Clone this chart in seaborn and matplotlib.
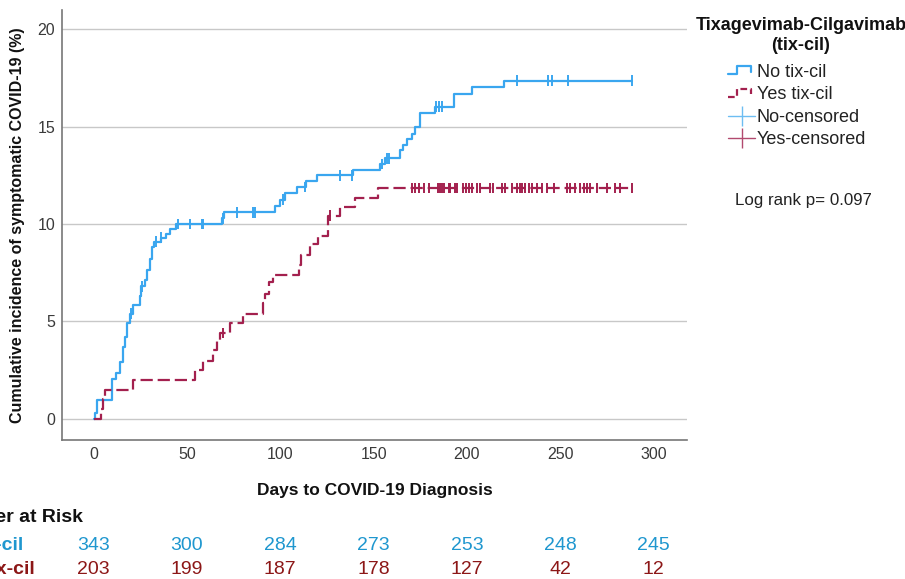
import numpy as np
import pandas as pd
import matplotlib
matplotlib.use("Agg")
import matplotlib.pyplot as plt
import matplotlib.transforms as mtransforms
from matplotlib.lines import Line2D
from matplotlib.legend_handler import HandlerBase
import seaborn as sns

# ---------------- data ----------------
no_days = [0, 0.5, 1.5, 2, 10, 12.2, 14.3, 15.5, 16.5, 18, 19.3, 21, 24.7, 25.5, 27.4, 28.5,
           30.1, 31, 32.5, 36.3, 38.5, 41, 44, 68.5, 70, 97.2, 100, 102.5, 108.8, 113.8,
           119.5, 139.2, 153.5, 156, 164.4, 166, 168, 170.5, 172, 174.7, 183, 192.9, 202.7,
           219.7, 288.6]
no_vals = [0, 0.3, 0.6, 0.95, 2.05, 2.33, 2.9, 3.7, 4.2, 4.9, 5.4, 5.85, 6.3, 6.8, 7.1, 7.65,
           8.2, 8.8, 9.1, 9.3, 9.5, 9.72, 10.0, 10.3, 10.6, 10.95, 11.25, 11.6, 11.9, 12.2,
           12.5, 12.8, 13.08, 13.37, 13.8, 14.05, 14.35, 14.65, 15.0, 15.7, 16.03, 16.7, 17.03,
           17.37, 17.37]
yes_days = [0, 4, 5, 6, 21.1, 54.2, 58.7, 64, 66, 67.6, 73, 80.2, 90.7, 92, 94, 96.3, 110,
            111, 116, 120.4, 125.8, 132, 140, 152.6, 288.6]
yes_vals = [0, 0.5, 1.0, 1.48, 1.98, 2.48, 2.98, 3.5, 4.0, 4.4, 4.9, 5.4, 5.95, 6.4, 7.0, 7.4,
            7.9, 8.4, 8.95, 9.4, 10.43, 10.9, 11.35, 11.85, 11.85]

no_censored = [20.2, 25.9, 33.6, 36.3, 45.3, 51.5, 57.8, 58.7, 69.5, 76.6, 85.6, 86.5, 101.6,
               113.3, 132, 138.3, 154.4, 157, 158.5, 183.5, 185, 186.6, 226.9, 243.5, 245.6,
               254.2, 288.6]
yes_censored = [69.4, 126.8, 170.5, 172.3, 174.1, 176.8, 179.5, 184.8, 185.7, 186.6, 187.5,
                190.2, 191.1, 193.8, 194.7, 198.2, 199.7, 201.1, 202.7, 205.4, 207.2, 212.6,
                214, 218.8, 220.6, 224.2, 226.9, 228.3, 229.6, 231.3, 233.1, 234.9, 237.6,
                240.3, 243, 246.6, 253.7, 255.5, 258.2, 260.8, 262.6, 264.4, 266.2, 269.8,
                275.2, 279.6, 282.3, 288.6]

groups = ["No tix-cil", "Yes tix-cil"]
risk_times = [0, 50, 100, 150, 200, 250, 300]
risk_no = [343, 300, 284, 273, 253, 248, 245]
risk_yes = [203, 199, 187, 178, 127, 42, 12]

# ---------------- style ----------------
sns.set_style("white")
plt.rcParams["font.family"] = ["Liberation Sans", "DejaVu Sans"]

BLUE = "#3aa6ef"
RED = "#a3204e"
BLUE_TXT = "#1f97cf"
RED_TXT = "#8c1717"
NARROW = ["Liberation Sans Narrow", "Liberation Sans", "DejaVu Sans"]

W, H = 905, 579
fig = plt.figure(figsize=(W / 100, H / 100), dpi=100)
ax = fig.add_axes([62 / W, 1 - 440 / H, 625 / W, 430 / H])


def step_value(days, vals, t):
    i = np.searchsorted(days, t, side="right") - 1
    return vals[max(i, 0)]


curves = pd.concat([
    pd.DataFrame({"day": no_days, "value": no_vals, "group": groups[0]}),
    pd.DataFrame({"day": yes_days, "value": yes_vals, "group": groups[1]}),
], ignore_index=True)

cens = pd.concat([
    pd.DataFrame({"day": no_censored,
                  "value": [step_value(no_days, no_vals, t) for t in no_censored],
                  "group": groups[0]}),
    pd.DataFrame({"day": yes_censored,
                  "value": [step_value(yes_days, yes_vals, t) for t in yes_censored],
                  "group": groups[1]}),
], ignore_index=True)

pal = {groups[0]: BLUE, groups[1]: RED}

sns.lineplot(data=curves, x="day", y="value", hue="group", style="group",
             palette=pal, dashes={groups[0]: "", groups[1]: (5.5, 2.2)},
             drawstyle="steps-post", estimator=None, sort=False, legend=False,
             linewidth=1.6, ax=ax)
sns.scatterplot(data=cens, x="day", y="value", hue="group", palette=pal,
                marker="|", s=60, linewidth=1.4, legend=False, ax=ax, zorder=3)

ax.set_xlim(-17, 318)
ax.set_ylim(-1.1, 21.0)
ax.set_xticks(risk_times)
ax.set_yticks([0, 5, 10, 15, 20])
ax.tick_params(length=0, pad=5, labelsize=11.5, labelcolor="#3a3a3a")
for lab in ax.get_xticklabels() + ax.get_yticklabels():
    lab.set_fontfamily(NARROW)
ax.grid(axis="y", color="#c8c8c8", linewidth=1)
ax.grid(axis="x", visible=False)
ax.set_axisbelow(True)
for s in ["top", "right"]:
    ax.spines[s].set_visible(False)
for s in ["left", "bottom"]:
    ax.spines[s].set_color("#777777")
    ax.spines[s].set_linewidth(1.2)

ax.set_xlabel("Days to COVID-19 Diagnosis", fontsize=12.5, fontweight="bold", color="#111111")
ax.xaxis.set_label_coords(0.5, -50 / 430)
ax.xaxis.label.set_va("center")
ax.set_ylabel("Cumulative incidence of symptomatic COVID-19 (%)", fontsize=11.5,
              fontweight="bold", color="#111111")
ax.yaxis.set_label_coords(-44 / 625, 0.5)
ax.yaxis.label.set_va("center")


# ---------------- legend ----------------
class StepHandler(HandlerBase):
    def create_artists(self, legend, orig_handle, xdescent, ydescent, width, height,
                       fontsize, trans):
        x0, y0 = -xdescent, -ydescent
        xs = [x0, x0 + 0.35 * width, x0 + 0.35 * width, x0 + 0.85 * width, x0 + 0.85 * width]
        ys = [y0 + 0.2 * height, y0 + 0.2 * height, y0 + 0.85 * height, y0 + 0.85 * height,
              y0 + 0.4 * height]
        ln = Line2D(xs, ys)
        ln.update_from(orig_handle)
        ln.set_transform(trans)
        return [ln]


h_no = Line2D([], [], color=BLUE, linewidth=1.6)
h_yes = Line2D([], [], color=RED, linewidth=1.6, linestyle=(0, (3, 1.6)))
h_noc = Line2D([], [], color="#6dbdf2", linewidth=1, marker="|", markersize=14,
               markeredgewidth=1)
h_yesc = Line2D([], [], color="#b24a6f", linewidth=1, marker="|", markersize=14,
                markeredgewidth=1)
leg = fig.legend([h_no, h_yes, h_noc, h_yesc],
                 ["No tix-cil", "Yes tix-cil", "No-censored", "Yes-censored"],
                 handler_map={h_no: StepHandler(), h_yes: StepHandler()},
                 loc="upper left", bbox_to_anchor=(728 / W, 1 - 64 / H),
                 frameon=False, fontsize=13, handlelength=1.5, handletextpad=0.1,
                 labelspacing=0.3, borderpad=0, borderaxespad=0)
for t in leg.get_texts():
    t.set_color("#222222")

fig.text(801 / W, 1 - 26 / H, "Tixagevimab-Cilgavimab", ha="center", va="center",
         fontsize=13, fontweight="bold", color="#111111")
fig.text(801 / W, 1 - 45 / H, "(tix-cil)", ha="center", va="center",
         fontsize=13, fontweight="bold", color="#111111")
fig.text(735 / W, 1 - 201 / H, "Log rank p= 0.097", ha="left", va="center",
         fontsize=12.2, color="#222222")

# ---------------- number at risk ----------------
blend = mtransforms.blended_transform_factory(ax.transData, fig.transFigure)
fig.text(83 / W, 1 - 518 / H, "Number at Risk", ha="right", va="center",
         fontsize=14, fontweight="bold", color="#111111")
fig.text(23 / W, 1 - 545 / H, "No tix-cil", ha="right", va="center",
         fontsize=14, fontweight="bold", color=BLUE_TXT)
fig.text(35 / W, 1 - 570 / H, "Yes tix-cil", ha="right", va="center",
         fontsize=14, fontweight="bold", color=RED_TXT)
for t, n1, n2 in zip(risk_times, risk_no, risk_yes):
    ax.text(t, 1 - 545 / H, str(n1), transform=blend, ha="center", va="center",
            fontsize=14, color=BLUE_TXT, fontfamily=NARROW, clip_on=False)
    ax.text(t, 1 - 570 / H, str(n2), transform=blend, ha="center", va="center",
            fontsize=14, color=RED_TXT, fontfamily=NARROW, clip_on=False)

fig.savefig("out.png", dpi=100)
